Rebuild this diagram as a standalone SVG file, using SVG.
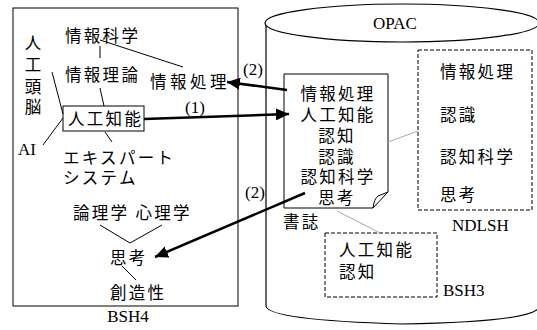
<svg xmlns="http://www.w3.org/2000/svg" width="537" height="330" viewBox="0 0 537 330">
<defs>
<style>
.j{font-family:"Noto Sans CJK JP","Noto Sans",sans-serif;font-size:16.5px;fill:#000;letter-spacing:2.3px}
.s{font-family:"Liberation Serif","Tinos","Times New Roman","DejaVu Serif",serif;font-size:17px;fill:#000}
.ln{stroke:#000;stroke-width:1;fill:none}
.gr{stroke:#aaa;stroke-width:1;fill:none}
.dash{stroke:#000;stroke-width:1;fill:#fff;stroke-dasharray:4 2}
.arr{stroke:#000;stroke-width:2.5;fill:none;marker-end:url(#ah)}
</style>
<marker id="ah" markerUnits="userSpaceOnUse" markerWidth="14" markerHeight="12" refX="13" refY="6" orient="auto">
<path d="M0,0 L13,6 L0,12 Z" fill="#000"/>
</marker>
</defs>
<rect width="537" height="330" fill="#fff"/>

<g id="opac">
<path d="M266,23 V306 Q268,320 402,324 Q536,322 540,306 V23" fill="#fff" stroke="#000" stroke-width="1.2"/>
<ellipse cx="402" cy="23" rx="137" ry="19" fill="#fff" stroke="#000" stroke-width="1.2"/>
<text class="s" x="395" y="29" text-anchor="middle">OPAC</text>
</g>

<g id="bsh4">
<rect x="13" y="8" width="225" height="298" fill="#fff" stroke="#000" stroke-width="1"/>
<text class="s" x="128" y="322" text-anchor="middle">BSH4</text>
</g>

<g id="bsh4-terms">
<text class="j" x="65" y="42">情報科学</text>
<text class="j" x="65" y="81">情報理論</text>
<text class="j" x="150" y="88" style="letter-spacing:3.5px">情報処理</text>
<text class="j" x="33" y="49" text-anchor="middle" style="letter-spacing:0">人</text>
<text class="j" x="33" y="71" text-anchor="middle" style="letter-spacing:0">工</text>
<text class="j" x="33" y="93" text-anchor="middle" style="letter-spacing:0">頭</text>
<text class="j" x="33" y="113" text-anchor="middle" style="letter-spacing:0">脳</text>
<rect x="63" y="106" width="81" height="25" fill="#fff" stroke="#000" stroke-width="1"/>
<text class="j" x="68" y="125">人工知能</text>
<text class="s" x="18" y="155">AI</text>
<text class="j" x="63" y="164">エキスパート</text>
<text class="j" x="63" y="184">システム</text>
<text class="j" x="73" y="219">論理学 心理学</text>
<text class="j" x="110" y="264">思考</text>
<text class="j" x="110" y="299">創造性</text>
</g>

<g id="bsh4-links">
<path class="ln" d="M100,40 L183,67"/>
<path class="ln" d="M100,46 V58"/>
<path class="ln" d="M100,88 L104,106"/>
<path class="ln" d="M52,72 L63,114"/>
<path class="ln" d="M43,145 L63,118"/>
<path class="ln" d="M105,132 L112,142"/>
<path class="ln" d="M100,225 L130,243 L162,225"/>
<path class="ln" d="M122,266 L136,280"/>
</g>

<g id="shoshi">
<path d="M284,74 H388 V192 L373,208 H284 Z" fill="#fff" stroke="#000" stroke-width="1"/>
<path d="M373,208 Q374,199 378,196 L388,192" fill="none" stroke="#000" stroke-width="1"/>
<text class="j" x="338" y="100" text-anchor="middle">情報処理</text>
<text class="j" x="338" y="121" text-anchor="middle">人工知能</text>
<text class="j" x="337" y="142" text-anchor="middle">認知</text>
<text class="j" x="337" y="163" text-anchor="middle">認識</text>
<text class="j" x="338" y="183" text-anchor="middle">認知科学</text>
<text class="j" x="337" y="204" text-anchor="middle">思考</text>
<text class="j" x="283" y="228">書誌</text>
</g>

<g id="ndlsh">
<rect class="dash" x="418" y="50" width="114" height="160"/>
<text class="j" x="440" y="78">情報処理</text>
<text class="j" x="440" y="121">認識</text>
<text class="j" x="440" y="163">認知科学</text>
<text class="j" x="440" y="201">思考</text>
<text class="s" x="452" y="231">NDLSH</text>
</g>

<g id="bsh3">
<rect class="dash" x="325" y="233" width="112" height="64"/>
<text class="j" x="339" y="256">人工知能</text>
<text class="j" x="339" y="278">認知</text>
<text class="s" x="443" y="296">BSH3</text>
</g>

<g id="connectors">
<path class="gr" d="M388,142 L418,131"/>
<path class="gr" d="M337,211 L380,233"/>
<path class="arr" d="M287,90 L227,82"/>
<path class="arr" d="M144,119 L289,114"/>
<path class="arr" d="M305,193 L155,257"/>
<text class="s" x="185" y="113">(1)</text>
<text class="s" x="243" y="75">(2)</text>
<text class="s" x="245" y="198">(2)</text>
</g>
</svg>
